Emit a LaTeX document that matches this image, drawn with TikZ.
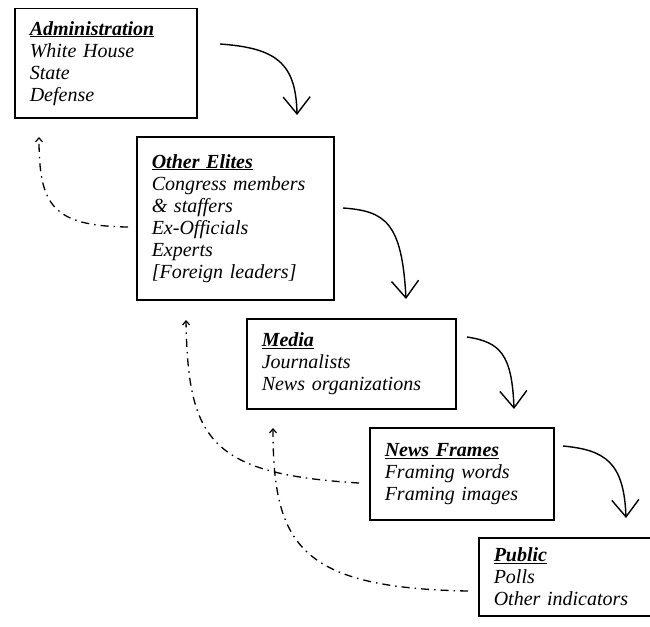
\documentclass[tikz,border=0pt]{standalone}
\usepackage{fontspec}
\setmainfont{Liberation Serif}
\usepackage{tikz}
\usetikzlibrary{positioning, arrows.meta}

\newcommand{\boxhead}[1]{\underline{\textbf{#1}}}

\begin{document}
\begin{tikzpicture}[x=1pt,y=-1pt,
    every node/.style={font=\fontsize{20}{22}\selectfont\itshape},
    stage/.style={draw,line width=1.5pt,anchor=north west,align=left,inner xsep=15pt,inner ysep=0pt},
    flow/.style={line width=1.4pt,-{Straight Barb[length=17pt,width=27pt,line width=1.4pt]}},
    back/.style={line width=1.3pt,dash pattern=on 8pt off 5pt on 1.5pt off 5pt,-{Straight Barb[length=4pt,width=7pt,line width=1.2pt]}}]
  \useasboundingbox (0,0) rectangle (650,626);

  \node[stage,text width=152pt,minimum height=109pt] (admin) at (14,8)
    {\boxhead{Administration}\\White House\\State\\Defense};
  \node[stage,text width=167pt,minimum height=163pt] (elites) at (136,136)
    {\boxhead{Other Elites}\\Congress members\\\& staffers\\Ex-Officials\\Experts\\{[Foreign leaders]}};
  \node[stage,text width=179pt,minimum height=90pt] (media) at (246,318)
    {\boxhead{Media}\\Journalists\\News organizations};
  \node[stage,text width=154pt,minimum height=92pt] (frames) at (369,427)
    {\boxhead{News Frames}\\Framing words\\Framing images};
  \node[stage,text width=190pt,inner ysep=10pt] (public) at (478,537)
    {\boxhead{Public}\\Polls\\Other indicators\\[14pt]};

  % forward flow
  \coordinate (f1s) at (220,44);  \coordinate (f1e) at (297,115);
  \coordinate (f2s) at (343,208); \coordinate (f2e) at (406,299);
  \coordinate (f3s) at (467,337); \coordinate (f3e) at (514,409);
  \coordinate (f4s) at (563,446); \coordinate (f4e) at (626,518);
  \draw[flow] (f1s) .. controls (275,48) and (296,62) .. (f1e);
  \draw[flow] (f2s) .. controls (385,211) and (402,222) .. (f2e);
  \draw[flow] (f3s) .. controls (500,342) and (512,354) .. (f3e);
  \draw[flow] (f4s) .. controls (605,450) and (624,462) .. (f4e);

  % feedback
  \coordinate (b1) at (39,137);
  \coordinate (b2) at (186,320);
  \coordinate (b3) at (273,428);
  \draw[back] ([xshift=-8pt]elites.west |- 0,227) .. controls (52,226) and (39,205) .. (b1);
  \draw[back] ([xshift=-10pt]frames.west |- 0,483) .. controls (210,474) and (188,440) .. (b2);
  \draw[back] ([xshift=-10pt]public.west |- 0,591) .. controls (300,588) and (273,545) .. (b3);
\end{tikzpicture}
\end{document}
